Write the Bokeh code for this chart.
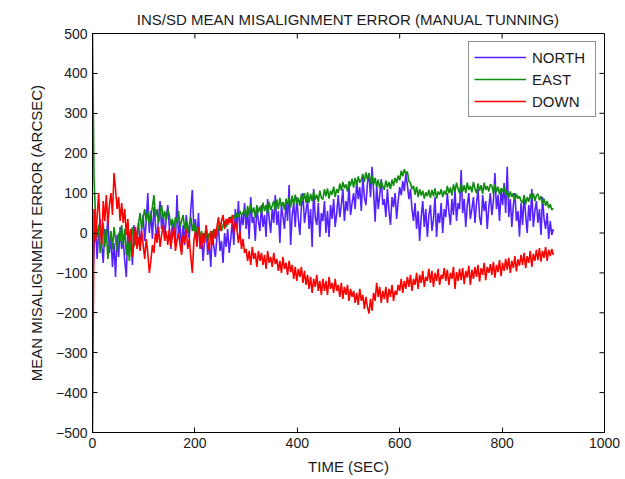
import math
from bokeh.plotting import figure
from bokeh.models import Range1d, FixedTicker, Legend, LegendItem, ColumnDataSource
from bokeh.embed import file_html
from bokeh.resources import INLINE

# ---------------- data ----------------
time_sec = list(range(0, 901, 3))

north = [
    -130, -40, 20, -65, 5, 35, -30, -75, 10, -20,
    40, -50, -10, -85, -25, -110, -5, -60, 15, -40,
    -20, -70, -110, 5, -45, -15, -80, 20, -30, -5,
    25, -35, 10, 45, -20, 30, 100, 0, 55, -15,
    65, 20, -20, 40, 80, 10, 50, -10, 35, 70,
    15, -40, 30, 0, -25, 95, -10, 25, -45, 20,
    -30, 45, 10, -15, 60, 108, 5, 35, -20, 50,
    -40, 0, -70, -15, 10, -55, -25, -85, 5, -35,
    -60, -10, 15, -45, -20, -75, 0, -35, 10, -50,
    -15, 30, -30, 60, 10, 80, -5, 45, 20, 75,
    10, 55, -15, 90, 25, 40, -20, 65, 30, 5,
    70, 15, 45, -10, 85, 35, 0, 60, 25, 95,
    20, 55, -25, 70, 40, 10, 80, 30, 120, -30,
    45, 75, 15, 90, 35, -5, 65, 100, 25, 55,
    85, 10, 60, -35, 110, 40, 20, 75, -10, 50,
    30, 80, 0, 55, -10, 70, 35, 85, 15, 50,
    95, 40, 70, 110, 30, 80, 55, 120, 45, 75,
    100, 60, 130, 85, 115, 55, 140, 90, 70, 125,
    150, 90, 166, 105, 28, 120, 60, 95, 135, 70,
    85, 40, 110, 55, 20, 90, 65, 100, 35, 80,
    115, 95, 130, 105, 150, 120, 85, 110, 60, 30,
    75, 10, 55, -20, 40, 80, 15, 60, -10, 45,
    70, 5, 35, 90, -10, 50, 25, 75, 0, 60,
    40, 100, 55, 20, 85, 45, 110, 30, 75, 60,
    158, 50, 85, 15, 70, 100, 35, 60, 90, 25,
    75, 110, 40, 20, 95, 55, 80, 10, 65, 100,
    45, 80, 150, 60, 95, 30, 110, 70, 125, 50,
    166, 40, 85, 15, 70, 100, 30, 55, -9, 75,
    20, 95, 45, 0, 70, 30, 110, 15, 55, 80,
    25, 60, -5, 90, 35, 10, 50, -15, 30, -5,
    10,
]

east = [
    500, 135, 40, -10, 20, -50, -20, 25, -35, 10,
    -65, -25, 5, -40, 15, -15, -45, 0, -20, 20,
    -30, 10, -55, -20, -70, -10, 15, -35, 5, -15,
    25, 50, 10, 40, 60, 30, 55, 20, 45, 65,
    95, 40, 60, 25, 50, 70, 35, 55, 30, 60,
    45, 20, 35, 10, 40, 25, 55, 15, 30, 45,
    10, 30, 0, 20, 40, 5, 25, -5, 15, 0,
    -10, 5, -25, -5, 10, -20, 0, -15, 5, -10,
    10, -5, 15, 25, 5, 20, 30, 15, 35, 25,
    40, 30, 45, 35, 50, 40, 55, 45, 50, 58,
    40, 68, 45, 72, 50, 64, 38, 70, 52, 66,
    48, 76, 55, 70, 50, 78, 58, 68, 80, 56,
    84, 60, 88, 66, 78, 58, 86, 70, 90, 64,
    94, 70, 96, 74, 88, 68, 98, 80, 100, 76,
    102, 76, 98, 80, 104, 84, 96, 78, 106, 88,
    84, 110, 92, 112, 86, 106, 96, 116, 90, 110,
    100, 124, 106, 128, 112, 122, 104, 130, 118, 136,
    114, 138, 120, 142, 126, 134, 148, 128, 152, 134,
    150, 124, 144, 120, 138, 116, 134, 112, 130, 118,
    108, 132, 114, 128, 110, 134, 118, 138, 126, 144,
    132, 156, 142, 160, 148, 154, 130, 126, 110, 118,
    96, 116, 90, 110, 94, 106, 86, 102, 92, 108,
    88, 108, 92, 112, 86, 104, 96, 110, 90, 106,
    96, 118, 100, 114, 94, 122, 104, 126, 110, 100,
    124, 104, 120, 100, 126, 108, 118, 102, 128, 110,
    100, 124, 106, 120, 98, 126, 108, 118, 104, 122,
    118, 98, 122, 102, 116, 96, 112, 104, 118, 94,
    108, 88, 104, 90, 100, 82, 98, 86, 92, 80,
    76, 94, 72, 90, 78, 98, 84, 100, 80, 94,
    98, 82, 92, 74, 86, 68, 80, 62, 72, 58,
    62,
]

down = [
    -500, 60, -20, 40, 100, 15, -30, 80, 30, 95,
    20, 70, 100, 45, 150, 110, 60, 90, 30, 75,
    25, 60, -5, 35, -25, 10, -60, -20, 15, -40,
    -10, -45, 5, -30, -65, -15, -50, -100, -70, -30,
    -50, 0, -25, 15, -35, -5, 20, -20, 5, -30,
    10, -35, -10, 15, -45, -20, 0, -30, -55, -5,
    -25, 10, -40, -15, -60, -100, -20, 5, -35, 15,
    -10, -40, 0, -25, 20, -15, -45, 5, -30, 10,
    -15, 15, 40, 5, 30, 45, 10, 35, 20, 40,
    25, 45, 0, 30, 10, -25, 5, -40, -15, -50,
    -40, -70, -45, -80, -35, -65, -50, -85, -45, -70,
    -50, -80, -55, -90, -45, -75, -60, -85, -50, -78,
    -65, -95, -70, -100, -60, -90, -75, -105, -70, -98,
    -80, -115, -85, -120, -90, -110, -85, -125, -95, -130,
    -105, -140, -110, -150, -115, -135, -105, -145, -120, -155,
    -115, -145, -120, -155, -110, -140, -125, -150, -115, -145,
    -130, -160, -125, -165, -135, -155, -130, -170, -140, -160,
    -145, -175, -150, -180, -140, -170, -155, -190, -160, -185,
    -202, -165, -195, -150, -170, -125, -160, -135, -175, -145,
    -165, -135, -175, -140, -160, -130, -170, -145, -155, -130,
    -145, -115, -150, -120, -140, -110, -135, -105, -145, -115,
    -130, -100, -140, -105, -125, -95, -135, -110, -120, -90,
    -125, -95, -135, -100, -120, -90, -130, -105, -115, -88,
    -120, -92, -130, -100, -115, -85, -140, -98, -120, -90,
    -118, -88, -128, -95, -112, -82, -130, -92, -115, -85,
    -110, -80, -122, -88, -105, -75, -118, -85, -100, -78,
    -105, -72, -112, -80, -98, -68, -108, -75, -95, -65,
    -92, -62, -100, -70, -88, -58, -96, -66, -82, -55,
    -80, -50, -88, -58, -75, -45, -85, -52, -70, -42,
    -68, -38, -72, -45, -62, -35, -70, -42, -58, -40,
    -55,
]

series_names = ["NORTH", "EAST", "DOWN"]
series_colors = ["#5522ff", "#108c10", "#ff0000"]

x_ticks = [0, 200, 400, 600, 800, 1000]
y_ticks = [-500, -400, -300, -200, -100, 0, 100, 200, 300, 400, 500]

FONT = "Liberation Sans"
TXT = "#1a1a1a"

# ---------------- figure ----------------
x_lo, x_hi = x_ticks[0], x_ticks[-1]
y_lo, y_hi = y_ticks[0], y_ticks[-1]
p = figure(
    width=625, height=479,
    x_range=Range1d(x_lo, x_hi), y_range=Range1d(y_lo, y_hi),
    output_backend="svg", toolbar_location=None,
    min_border_left=92, min_border_right=21,
    min_border_top=33, min_border_bottom=47,
    title="INS/SD MEAN MISALIGNMENT ERROR (MANUAL TUNNING)",
)
p.background_fill_color = "white"
p.border_fill_color = "white"
p.outline_line_color = "black"
p.outline_line_width = 1
p.xgrid.visible = False
p.ygrid.visible = False

p.title.align = "center"
p.title.text_font = FONT
p.title.text_font_size = "15px"
p.title.text_font_style = "normal"
p.title.text_color = TXT
p.title.standoff = 11

for ax, ticks in ((p.xaxis[0], x_ticks), (p.yaxis[0], y_ticks)):
    ax.ticker = FixedTicker(ticks=ticks)
    ax.major_tick_in = 5
    ax.major_tick_out = 0
    ax.minor_tick_line_color = None
    ax.axis_line_color = "black"
    ax.major_tick_line_color = "black"
    ax.major_label_text_font = FONT
    ax.major_label_text_font_size = "14px"
    ax.major_label_text_color = TXT
    ax.major_label_standoff = 5
    ax.axis_label_text_font = FONT
    ax.axis_label_text_font_size = "15px"
    ax.axis_label_text_font_style = "normal"
    ax.axis_label_text_color = TXT

p.xaxis.axis_label = "TIME (SEC)"
p.yaxis.axis_label = "MEAN MISALIGNMENT ERROR (ARCSEC)"
p.xaxis.axis_label_standoff = 7
p.yaxis.axis_label_standoff = 8

# mirrored inward ticks on the right and top edges (MATLAB box style)
p.ray(x=[x_hi] * len(y_ticks), y=y_ticks, length=5, length_units="screen",
      angle=math.pi, line_color="black", line_width=1)
p.ray(x=x_ticks, y=[y_hi] * len(x_ticks), length=5, length_units="screen",
      angle=-math.pi / 2, line_color="black", line_width=1)

# ---------------- series ----------------
items = []
for name, vals, col in zip(series_names, [north, east, down], series_colors):
    src = ColumnDataSource(dict(t=time_sec, v=vals))
    r = p.line("t", "v", source=src, line_color=col, line_width=1.6)
    items.append(LegendItem(label=name, renderers=[r]))

legend = Legend(items=items, location="top_right")
legend.border_line_color = "#222222"
legend.border_line_width = 1
legend.background_fill_color = "white"
legend.background_fill_alpha = 1
legend.label_text_font = FONT
legend.label_text_font_size = "15px"
legend.label_text_color = TXT
legend.glyph_width = 52
legend.glyph_height = 20
legend.label_height = 20
legend.label_width = 58
legend.label_standoff = 6
legend.spacing = 2
legend.padding = 5
legend.margin = 8
p.add_layout(legend, "center")

open("out.html", "w").write(file_html(p, INLINE))
